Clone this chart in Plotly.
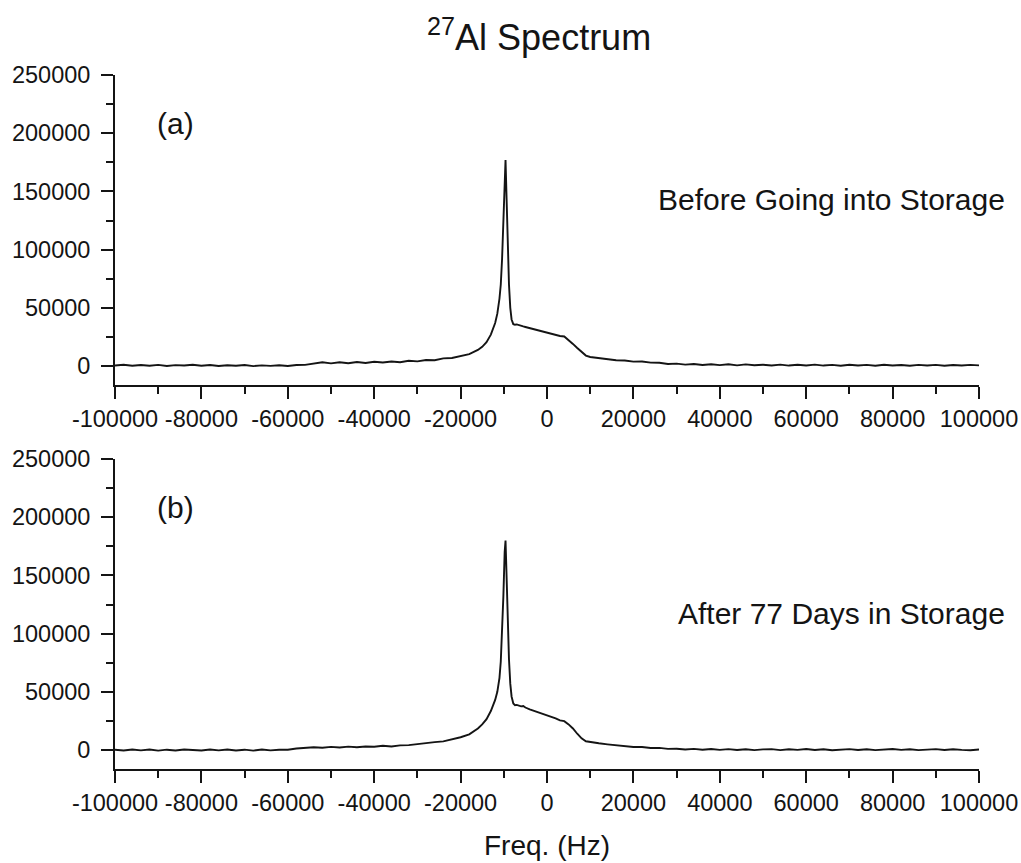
import plotly.graph_objects as go
from plotly.subplots import make_subplots

# Frequency grid (Hz): coarse on the wings, finer across the central line
freq_hz = [
    -100000, -98000, -96000, -94000, -92000, -90000, -88000, -86000, -84000, -82000,
    -80000, -78000, -76000, -74000, -72000, -70000, -68000, -66000, -64000, -62000,
    -60000, -58000, -56000, -54000, -52000, -50000, -48000, -46000, -44000, -42000,
    -40000, -38000, -36000, -34000, -32000, -30000, -28000, -26000, -24000, -22000,
    -20000, -18000, -16000, -15000, -14000, -13000, -12000, -11500, -11000, -10700,
    -10400, -10100, -9800, -9600, -9400, -9100, -8800, -8500, -8200, -7800,
    -7400, -7000, -6500, -6000, -5500, -5000, -4000, -3000, -2000, -1000,
    0, 1000, 2000, 3000, 4000, 5000, 6000, 7000, 8000, 9000,
    10000, 12000, 14000, 16000, 18000, 20000, 22000, 24000, 26000, 28000,
    30000, 32000, 34000, 36000, 38000, 40000, 42000, 44000, 46000, 48000,
    50000, 52000, 54000, 56000, 58000, 60000, 62000, 64000, 66000, 68000,
    70000, 72000, 74000, 76000, 78000, 80000, 82000, 84000, 86000, 88000,
    90000, 92000, 94000, 96000, 98000, 100000,
]

# (a) Before going into storage
intensity_before = [
    500, 1100, 200, 900, 300, 1000, 100, 800, 400, 1100,
    300, 900, 0, 700, 200, 900, -100, 600, 100, 700,
    0, 900, 1000, 2000, 3200, 2300, 3300, 2400, 3500, 2600,
    3700, 3000, 3900, 3300, 4500, 4000, 5200, 5000, 6600, 6900,
    8600, 10200, 13800, 16500, 20500, 27000, 37000, 45000, 58000, 70000,
    92000, 125000, 165000, 177000, 150000, 105000, 70000, 50000, 40000, 36000,
    35500, 35800, 35000, 34600, 34000, 33500, 32500, 31800, 31000, 29800,
    29000, 27500, 26500, 25800, 25400, 22500, 19000, 15500, 12000, 9000,
    7800, 6800, 6200, 5000, 4800, 3800, 3900, 2900, 2800, 1800,
    2100, 1200, 1800, 900, 1500, 800, 1500, 600, 1400, 700,
    1100, 500, 1200, 400, 1100, 500, 1200, 400, 1000, 300,
    1100, 400, 1000, 300, 1100, 400, 900, 300, 1000, 400,
    1000, 300, 900, 400, 1000, 600,
]

# (b) After 77 days in storage
intensity_after = [
    300, -400, 500, -300, 400, -500, 300, -400, 500, -200,
    -400, 400, -300, 500, -400, 300, -500, 400, -300, 200,
    200, 1300, 1700, 2400, 2000, 2700, 2200, 2900, 2400, 3000,
    2800, 3700, 3000, 4000, 4200, 5200, 5600, 6800, 7400, 9200,
    11000, 13500, 18500, 22000, 26500, 33500, 43000, 50000, 62000, 76000,
    100000, 132000, 170000, 180000, 155000, 110000, 78000, 57000, 46000, 40000,
    38500, 38800, 38000, 37500, 37800, 36500, 35000, 33800, 32500, 31200,
    30000, 28500, 27200, 25500, 24800, 22000, 18500, 14000, 10000, 7500,
    6800, 5800, 4900, 4100, 3500, 2600, 2600, 1800, 1800, 1000,
    1100, 400, 1000, 200, 900, 100, 800, 0, 700, -100,
    600, 800, -100, 700, 100, 900, 0, 700, -200, 600,
    800, 0, 700, -100, 600, 900, 100, 700, -100, 600,
    800, 0, 700, 100, -200, 400,
]

x_tick_vals = [-100000, -80000, -60000, -40000, -20000, 0, 20000, 40000, 60000, 80000, 100000]
y_tick_vals = [0, 50000, 100000, 150000, 200000, 250000]

panel_labels = ["(a)", "(b)"]
panel_notes = ["Before Going into Storage", "After 77 Days in Storage"]
panel_note_values = [143000, 117000]

INK = "#141414"
FONT = "Liberation Sans, Arial, sans-serif"

fig = make_subplots(rows=2, cols=1, shared_xaxes=False, vertical_spacing=0.1066)

for row, series in enumerate([intensity_before, intensity_after], start=1):
    fig.add_trace(
        go.Scatter(x=freq_hz, y=series, mode="lines",
                   line=dict(color=INK, width=1.9), showlegend=False,
                   hoverinfo="skip"),
        row=row, col=1,
    )

axis_common = dict(
    showline=True, linecolor=INK, linewidth=1.8, mirror=False,
    showgrid=False, zeroline=False, automargin=False,
    ticks="outside", ticklen=12, tickwidth=1.8, tickcolor=INK,
    tickfont=dict(family=FONT, size=23.5, color=INK),
)

for row in (1, 2):
    fig.update_xaxes(
        range=[-100000, 100000], tickvals=x_tick_vals,
        ticktext=[str(v) for v in x_tick_vals], ticklabelstandoff=0,
        minor=dict(ticks="outside", ticklen=7, tickwidth=1.5, tickcolor=INK, dtick=10000,
                   tick0=0, showgrid=False),
        **axis_common, row=row, col=1,
    )
    fig.update_yaxes(
        range=[-16300, 250000], tickvals=y_tick_vals,
        ticktext=[str(v) for v in y_tick_vals], ticklabelstandoff=6,
        minor=dict(ticks="outside", ticklen=7, tickwidth=1.5, tickcolor=INK, dtick=25000,
                   tick0=0, showgrid=False),
        **axis_common, row=row, col=1,
    )

fig.update_xaxes(
    title=dict(text="Freq. (Hz)", font=dict(family=FONT, size=28, color=INK), standoff=20),
    row=2, col=1,
)

annotations = []
for i, (lab, note, nv) in enumerate(zip(panel_labels, panel_notes, panel_note_values)):
    xr = "x" if i == 0 else "x2"
    yr = "y" if i == 0 else "y2"
    annotations.append(dict(
        text=lab, xref=xr + " domain", yref=yr, x=0.0695, y=208000,
        xanchor="center", yanchor="middle", showarrow=False,
        font=dict(family=FONT, size=30, color=INK),
    ))
    annotations.append(dict(
        text=note, xref=xr + " domain", yref=yr, x=1.0324, y=nv,
        xanchor="right", yanchor="middle", showarrow=False,
        font=dict(family=FONT, size=30, color=INK),
    ))
fig.update_layout(annotations=annotations)

fig.update_layout(
    width=1021, height=863,
    margin=dict(l=115, r=42, t=75, b=94, autoexpand=False),
    paper_bgcolor="white", plot_bgcolor="white",
    title=dict(text="<sup>27</sup>Al Spectrum", x=0.528, xanchor="center",
               y=0.957, yanchor="middle",
               font=dict(family=FONT, size=36, color=INK)),
)

fig.write_html("out.html")
